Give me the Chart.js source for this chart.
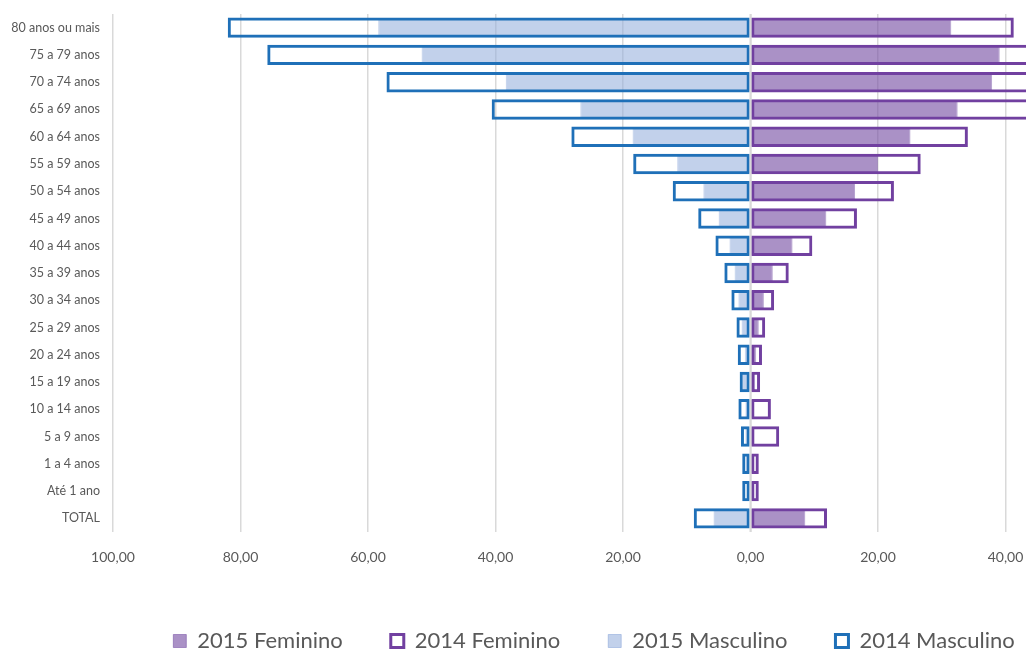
<!DOCTYPE html>
<html>
<head>
<meta charset="utf-8">
<script src="https://cdn.jsdelivr.net/npm/chart.js@4"></script>
<style>
    html, body { margin: 0; padding: 0; background: #fff; overflow: hidden; }
    #wrap { width: 1188px; height: 662px; }
</style>
</head>
<body>
<div id="wrap"><canvas id="piramide" width="1188" height="662"></canvas></div>
<script>
// Faixas etárias (de cima para baixo)
const categorias = [
    "80 anos ou mais", "75 a 79 anos", "70 a 74 anos", "65 a 69 anos",
    "60 a 64 anos", "55 a 59 anos", "50 a 54 anos", "45 a 49 anos",
    "40 a 44 anos", "35 a 39 anos", "30 a 34 anos", "25 a 29 anos",
    "20 a 24 anos", "15 a 19 anos", "10 a 14 anos", "5 a 9 anos",
    "1 a 4 anos", "Até 1 ano", "TOTAL"
];

// Valores
const fem2015 = [31.5, 39.1, 37.9, 32.5, 25.1, 20.0, 16.4, 11.9, 6.6, 3.5, 2.1, 1.3, 0.9, 0.7, 0.4, 0.6, 0.4, 0.4, 8.6];
const fem2014 = [41.3, 52.0, 51.0, 45.0, 34.1, 26.7, 22.5, 16.7, 9.7, 6.0, 3.7, 2.3, 1.8, 1.5, 3.2, 4.5, 1.3, 1.3, 12.0];
const masc2015 = [58.4, 51.6, 38.4, 26.7, 18.5, 11.5, 7.4, 5.0, 3.3, 2.5, 1.9, 1.4, 0.9, 1.2, 0.8, 0.8, 0.7, 0.6, 5.8];
const masc2014 = [82.0, 75.8, 57.1, 40.6, 28.1, 18.4, 12.2, 8.2, 5.5, 4.1, 3.0, 2.2, 2.0, 1.7, 1.9, 1.5, 1.3, 1.3, 8.9];

const eixoMin = -100;
const eixoMax = 60;
const eixoPasso = 20;

const corTexto = "#595959";
const corGrade = "#D9D9D9";

// linha vertical do eixo (zero) por cima das barras
const linhaZero = {
    id: "linhaZero",
    afterDatasetsDraw(chart) {
        const { ctx, chartArea, scales } = chart;
        const x = scales.x.getPixelForValue(0);
        ctx.save();
        ctx.strokeStyle = corGrade;
        ctx.lineWidth = 2;
        ctx.beginPath();
        ctx.moveTo(x, chartArea.top);
        ctx.lineTo(x, chartArea.bottom);
        ctx.stroke();
        ctx.restore();
    }
};

// escalas verticais sem margem extra em cima/embaixo
function semMargemVertical(s, largura) {
    s.width = largura;
    s.paddingTop = 0;
    s.paddingBottom = 0;
}

const ctx = document.getElementById("piramide").getContext("2d");

new Chart(ctx, {
    type: "bar",
    data: {
        labels: categorias,
        datasets: [
            {
                label: "2015 Feminino",
                data: fem2015,
                backgroundColor: "rgba(120,80,165,0.63)",
                borderColor: "rgba(110,70,160,0.5)",
                borderWidth: 1,
                borderSkipped: false,
                barPercentage: 0.68,
                order: 2
            },
            {
                label: "2014 Feminino",
                data: fem2014,
                backgroundColor: "rgba(255,255,255,0)",
                borderColor: "#7140A0",
                borderWidth: 3,
                borderSkipped: false,
                barPercentage: 0.75,
                order: 1
            },
            {
                label: "2015 Masculino",
                data: masc2015.map((v) => -v),
                backgroundColor: "rgba(150,175,220,0.58)",
                borderColor: "rgba(120,150,210,0.45)",
                borderWidth: 1,
                borderSkipped: false,
                barPercentage: 0.68,
                order: 2
            },
            {
                label: "2014 Masculino",
                data: masc2014.map((v) => -v),
                backgroundColor: "rgba(255,255,255,0)",
                borderColor: "#1F70B8",
                borderWidth: 3,
                borderSkipped: false,
                barPercentage: 0.75,
                order: 1
            }
        ]
    },
    options: {
        indexAxis: "y",
        responsive: false,
        animation: false,
        datasets: {
            bar: { grouped: false, categoryPercentage: 1 }
        },
        layout: {
            padding: { top: 14, right: 0, left: 0, bottom: 0 }
        },
        scales: {
            x: {
                min: eixoMin,
                max: eixoMax,
                afterFit: (s) => { s.height = 50; },
                border: { display: false },
                grid: { color: corGrade, lineWidth: 1.5, drawTicks: false },
                ticks: {
                    stepSize: eixoPasso,
                    padding: 17,
                    color: corTexto,
                    font: { family: "Lato", size: 14 },
                    callback: (v) => Math.abs(v).toFixed(2).replace(".", ",")
                }
            },
            y: {
                afterFit: (s) => semMargemVertical(s, 113),
                border: { display: false },
                grid: { display: false, drawTicks: false },
                ticks: {
                    padding: 13,
                    color: corTexto,
                    font: { family: "Lato", size: 12.5 }
                }
            },
            // margem à direita, só para reservar espaço
            direita: {
                type: "category",
                labels: categorias,
                position: "right",
                afterFit: (s) => semMargemVertical(s, 55),
                border: { display: false },
                grid: { display: false, drawTicks: false },
                ticks: { display: false }
            }
        },
        plugins: {
            tooltip: { enabled: false },
            legend: {
                display: true,
                position: "bottom",
                labels: {
                    boxWidth: 13,
                    boxHeight: 13,
                    padding: 48,
                    color: corTexto,
                    font: { family: "Lato", size: 22 },
                    sort: (a, b) => a.datasetIndex - b.datasetIndex
                }
            }
        }
    },
    plugins: [linhaZero]
});
</script>
</body>
</html>
